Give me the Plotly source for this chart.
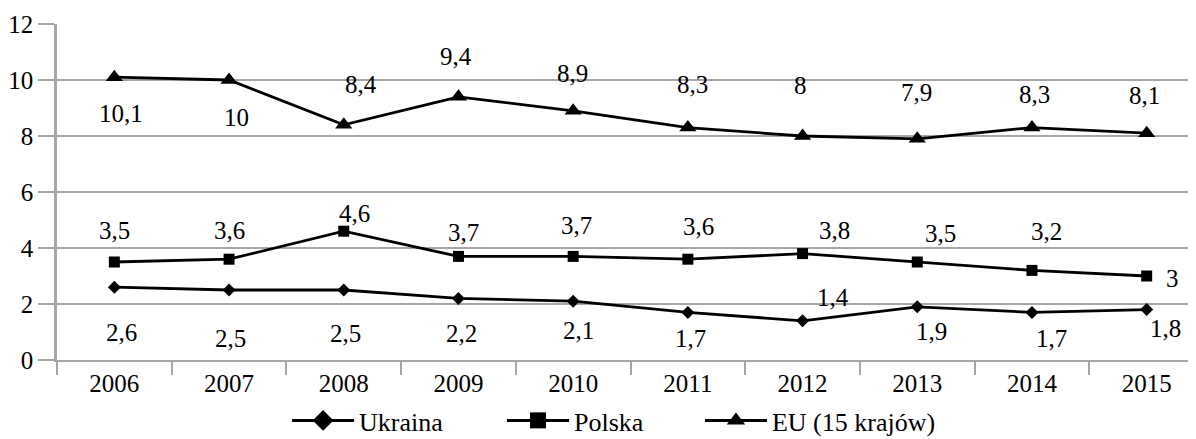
import plotly.graph_objects as go

years = ["2006", "2007", "2008", "2009", "2010", "2011", "2012", "2013", "2014", "2015"]
ukraina = [2.6, 2.5, 2.5, 2.2, 2.1, 1.7, 1.4, 1.9, 1.7, 1.8]
polska = [3.5, 3.6, 4.6, 3.7, 3.7, 3.6, 3.8, 3.5, 3.2, 3.0]
eu15 = [10.1, 10.0, 8.4, 9.4, 8.9, 8.3, 8.0, 7.9, 8.3, 8.1]
y_ticks = [0, 2, 4, 6, 8, 10, 12]

# label offsets in pixels (dx, dy) relative to each point
uk_dx = [7, 1, 2, 3, 5, 3, 30, 14, 20, 19]
uk_dy = [45, 48, 43, 35, 29, 26, -23, 25, 26, 19]
pl_dx = [0, 0, 11, 5, 3, 11, 32, 23, 15, 26]
pl_dy = [-32, -29, -18, -24, -31, -33, -23, -29, -39, 2]
eu_dx = [7, 7, 17, -2, -1, 5, -2, -1, 3, -2]
eu_dy = [36, 37, -40, -40, -37, -43, -51, -46, -33, -38]

FONT = "Liberation Serif, Times New Roman, serif"
FS = 25
LFS = 26

def fmt(v):
    return ("%g" % v).replace(".", ",")

fig = go.Figure()
series = [
    ("Ukraina", ukraina, "diamond", 10, uk_dx, uk_dy, "legend", 0.202),
    ("Polska", polska, "square", 11, pl_dx, pl_dy, "legend2", 0.3907),
    ("EU (15 krajów)", eu15, "triangle-up", 15, eu_dx, eu_dy, "legend3", 0.5645),
]
legend_cfg = {}
for name, vals, sym, sz, dxs, dys, lg, lx in series:
    fig.add_trace(go.Scatter(
        x=years, y=vals, name=name, mode="lines+markers",
        line=dict(color="black", width=2.8),
        marker=dict(symbol=sym, size=sz, color="black"),
        showlegend=False,
    ))
    # legend entry (larger symbol, as in the original legend)
    fig.add_trace(go.Scatter(
        x=[None], y=[None], name=name, mode="lines+markers",
        line=dict(color="black", width=3),
        marker=dict(symbol=sym, size=16, color="black"),
        legend=lg, showlegend=True, hoverinfo="skip",
    ))
    legend_cfg[lg] = dict(
        orientation="h", x=lx, xanchor="left", y=-0.18, yanchor="middle",
        font=dict(family=FONT, size=LFS, color="black"),
        bgcolor="rgba(0,0,0,0)", borderwidth=0, itemwidth=62,
    )
    for i, (v, dx, dy) in enumerate(zip(vals, dxs, dys)):
        fig.add_annotation(
            x=i, y=v, xref="x", yref="y", text=fmt(v), showarrow=False,
            xshift=dx, yshift=-dy, xanchor="center", yanchor="middle",
            font=dict(family=FONT, size=FS, color="black"),
        )

fig.update_layout(
    width=1188, height=431,
    margin=dict(l=49, r=0, t=16, b=79, autoexpand=False),
    paper_bgcolor="white", plot_bgcolor="white",
    font=dict(family=FONT, size=FS, color="black"),
    **legend_cfg,
)
fig.update_xaxes(
    type="category", range=[-0.5, 9.43],
    showline=True, linecolor="#A6A6A6", linewidth=2,
    ticks="outside", ticklen=13, tickwidth=1.5, tickcolor="#A6A6A6",
    tickson="boundaries", showgrid=False,
    tickfont=dict(family=FONT, size=FS, color="black"),
)
fig.update_yaxes(
    range=[0, 12], tickvals=y_ticks, ticktext=[str(t) for t in y_ticks],
    showline=True, linecolor="#A6A6A6", linewidth=2.5,
    showgrid=True, gridcolor="#A6A6A6", gridwidth=1.5,
    ticks="outside", ticklen=16, tickwidth=1.5, tickcolor="#A6A6A6",
    zeroline=False,
    tickfont=dict(family=FONT, size=FS, color="black"),
)

fig.write_html("out.html")
